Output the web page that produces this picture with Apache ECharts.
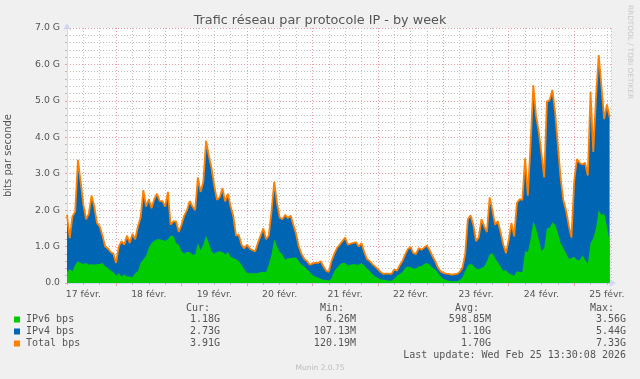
<!DOCTYPE html>
<html><head><meta charset="utf-8">
<script src="https://cdn.jsdelivr.net/npm/echarts@6/dist/echarts.min.js"></script>
<style>html,body{margin:0;padding:0;background:#f0f0f0;}#c{width:640px;height:379px;}</style>
</head><body><div id="c"></div>
<script>
// hourly samples, first sample at 17 févr. 06:00 (hours counted from 17 févr. 00:00)
const startHour = 6;
const endHour = 205.5;
const ipv6G = [
 0.3,0.38,0.32,0.5,0.6,0.55,0.52,0.55,0.5,0.52,
 0.5,0.52,0.52,0.55,0.46,0.41,0.34,0.3,0.2,0.27,
 0.18,0.23,0.18,0.18,0.16,0.27,0.32,0.55,0.65,0.75,
 0.96,1.1,1.15,1.2,1.2,1.18,1.15,1.2,1.3,1.3,
 1.1,1.05,0.87,0.8,0.85,0.85,0.78,0.78,1.1,0.9,
 1.05,1.3,1.1,0.87,0.8,0.85,0.87,0.85,0.78,0.85,
 0.72,0.68,0.65,0.6,0.5,0.38,0.28,0.27,0.27,0.27,
 0.27,0.3,0.3,0.3,0.5,0.78,1.2,1.0,0.85,0.78,
 0.64,0.68,0.68,0.7,0.7,0.6,0.5,0.45,0.38,0.3,
 0.22,0.18,0.15,0.12,0.09,0.09,0.06,0.13,0.32,0.42,
 0.5,0.55,0.55,0.48,0.5,0.52,0.51,0.5,0.55,0.48,
 0.4,0.33,0.24,0.18,0.14,0.1,0.09,0.08,0.06,0.06,
 0.12,0.2,0.25,0.3,0.41,0.45,0.44,0.39,0.4,0.46,
 0.46,0.52,0.55,0.5,0.42,0.37,0.28,0.18,0.11,0.08,
 0.06,0.05,0.05,0.05,0.08,0.15,0.32,0.48,0.53,0.48,
 0.4,0.38,0.41,0.45,0.6,0.78,0.82,0.68,0.57,0.45,
 0.33,0.35,0.27,0.23,0.2,0.32,0.3,0.3,0.87,0.85,
 1.2,1.69,1.5,1.2,0.88,0.95,1.5,1.52,1.66,1.6,
 1.38,1.1,0.96,0.82,0.67,0.68,0.72,0.63,0.62,0.76,
 0.64,0.52,1.1,1.23,1.5,2.0,1.87,1.9,1.55,1.14
];
const ipv4G = [
 1.57,0.85,1.51,1.46,2.78,2.23,1.63,1.2,1.4,1.88,
 1.6,1.13,1.03,0.75,0.54,0.54,0.51,0.5,0.35,0.73,
 0.97,0.82,1.12,0.92,1.19,0.93,1.23,1.25,1.9,1.35,
 1.34,0.95,1.15,1.25,1.05,1.07,0.95,1.3,0.3,0.39,
 0.59,0.35,0.73,1.05,1.15,1.4,1.32,1.22,1.8,1.6,
 1.73,2.6,2.4,2.28,1.87,1.43,1.48,1.75,1.46,1.6,
 1.38,1.15,0.65,0.72,0.55,0.57,0.77,0.68,0.63,0.6,
 0.83,1.0,1.2,0.9,0.8,1.18,1.58,1.2,0.95,0.97,
 1.23,1.1,1.17,0.9,0.65,0.4,0.3,0.21,0.22,0.2,
 0.31,0.37,0.4,0.48,0.37,0.25,0.24,0.47,0.48,0.54,
 0.55,0.6,0.7,0.57,0.58,0.58,0.61,0.5,0.55,0.37,
 0.26,0.27,0.28,0.27,0.24,0.2,0.16,0.18,0.2,0.19,
 0.25,0.14,0.23,0.3,0.37,0.48,0.55,0.43,0.4,0.5,
 0.45,0.45,0.48,0.4,0.32,0.23,0.15,0.14,0.17,0.18,
 0.19,0.18,0.19,0.2,0.22,0.27,0.46,1.27,1.33,1.12,
 0.75,0.87,1.34,1.1,0.8,1.57,1.18,0.92,1.13,0.95,
 0.72,0.47,0.92,1.42,1.08,1.88,2.0,1.98,2.55,1.55,
 2.6,3.74,3.1,2.95,2.67,1.95,3.48,3.5,3.64,3.1,
 2.42,1.8,1.32,1.18,0.91,0.57,2.08,2.77,2.68,2.49,
 2.66,2.43,4.15,2.37,3.6,4.26,3.53,2.6,3.35,3.41
];
const dayLabels = ['17 févr.','18 févr.','19 févr.','20 févr.','21 févr.','22 févr.','23 févr.','24 févr.','25 févr.'];
const dayLabelHours = [12,36,60,84,108,132,156,180,204];
const midnightHours = [24,48,72,96,120,144,168,192];
const yTickLabels = ['0.0','1.0 G','2.0 G','3.0 G','4.0 G','5.0 G','6.0 G','7.0 G'];
const legendNames = ['IPv6 bps','IPv4 bps','Total bps'];
const legendColors = ['#00cc00','#0066b3','#ff8000'];
const curVals = ['1.18G','2.73G','3.91G'];
const minVals = ['6.26M','107.13M','120.19M'];
const avgVals = ['598.85M','1.10G','1.70G'];
const maxVals = ['3.56G','5.44G','7.33G'];
const lastUpdate = 'Last update: Wed Feb 25 13:30:08 2026';

const hours = ipv6G.map((_, i) => startHour + i);
const totalG = ipv6G.map((v, i) => +(v + ipv4G[i]).toFixed(3));
const v6Data = ipv6G.map((v, i) => [hours[i], v]);
const stackTopData = totalG.map((v, i) => [hours[i], v]); // IPv4 stacked on IPv6

const mono = '"DejaVu Sans Mono", monospace';
const sans = '"DejaVu Sans", sans-serif';
const txt = '#555';
const gridGrey = '#c4c4c4';
const gridRed = '#eaa0a0';
const axisCol = '#cfd6f8';

const graphic = [];
const headers = [['Cur:',186],['Min:',320],['Avg:',455],['Max:',590]];
headers.forEach(h => graphic.push({type:'text', x:h[1], y:308.5, style:{text:h[0], font:'10px '+mono, fill:txt, align:'left', verticalAlign:'middle'}}));
const rowsY = [319.5, 331.5, 343.5];
const cols = [[curVals,220],[minVals,356],[avgVals,491],[maxVals,626]];
legendNames.forEach((n, i) => {
  graphic.push({type:'rect', shape:{x:14, y:rowsY[i]-3, width:6, height:6}, style:{fill:legendColors[i]}});
  graphic.push({type:'text', x:26, y:rowsY[i], style:{text:n, font:'10px '+mono, fill:txt, align:'left', verticalAlign:'middle'}});
  cols.forEach(c => graphic.push({type:'text', x:c[1], y:rowsY[i], style:{text:c[0][i], font:'10px '+mono, fill:txt, align:'right', verticalAlign:'middle'}}));
});
graphic.push({type:'text', x:626, y:355.5, style:{text:lastUpdate, font:'10px '+mono, fill:txt, align:'right', verticalAlign:'middle'}});
graphic.push({type:'text', x:320, y:368, style:{text:'Munin 2.0.75', font:'7.5px '+sans, fill:'#bbb', align:'center', verticalAlign:'middle'}});
graphic.push({type:'text', x:630, y:5, rotation:-Math.PI/2, style:{text:'RRDTOOL / TOBI OETIKER', font:'7.3px '+sans, fill:'#c8c8c8', align:'left', verticalAlign:'middle'}});

const chart = echarts.init(document.getElementById('c'), null, {renderer:'canvas'});
chart.setOption({
  animation:false,
  backgroundColor:'#f0f0f0',
  title:{text:'Trafic réseau par protocole IP - by week', left:'center', top:9,
    textStyle:{fontFamily:sans, fontSize:12.8, fontWeight:'normal', color:txt}},
  grid:{left:67, right:29, top:28, bottom:96, show:true, backgroundColor:'#ffffff', borderWidth:0,
    containLabel:false, outerBoundsMode:'none'},
  xAxis:[{
    type:'value', position:'bottom', min:startHour, max:endHour, interval:6,
    axisLine:{show:true, lineStyle:{color:axisCol, width:1}, symbol:['none','arrow'], symbolSize:[6,7], symbolOffset:[0,5]},
    axisTick:{show:true, length:2, inside:false, lineStyle:{color:'#bbb'}},
    axisLabel:{show:false},
    splitLine:{show:true, lineStyle:{color:gridGrey, type:[1,2], width:1}}
  },{
    type:'value', position:'bottom', offset:0, min:startHour, max:endHour,
    axisLine:{show:false},
    axisTick:{show:true, length:3, customValues:midnightHours, lineStyle:{color:gridRed}},
    axisLabel:{show:true, customValues:dayLabelHours, margin:7,
      formatter:v => dayLabels[dayLabelHours.indexOf(v)] || '',
      fontFamily:sans, fontSize:9.3, color:txt},
    splitLine:{show:true, lineStyle:{color:gridRed, type:[1,2], width:1}}
  }],
  yAxis:{
    type:'value', min:0, max:7, interval:1,
    name:'bits par seconde', nameLocation:'middle', nameGap:54, nameRotate:90,
    nameTextStyle:{fontFamily:sans, fontSize:10, color:txt},
    axisLine:{show:true, lineStyle:{color:axisCol}, symbol:['none','arrow'], symbolSize:[6,7], symbolOffset:[0,5]},
    axisTick:{show:true, length:2, lineStyle:{color:gridRed}},
    minorTick:{show:true, splitNumber:5, length:2, lineStyle:{color:'#bbb'}},
    axisLabel:{formatter:(v) => yTickLabels[Math.round(v)], fontFamily:sans, fontSize:9.3, color:txt, margin:7},
    splitLine:{show:true, lineStyle:{color:gridRed, type:[1,2]}},
    minorSplitLine:{show:true, lineStyle:{color:gridGrey, type:[1,2]}}
  },
  graphic:graphic,
  series:[
    {name:'IPv4 bps', type:'line', data:stackTopData, showSymbol:false, symbol:'none',
     lineStyle:{width:0}, areaStyle:{color:legendColors[1], opacity:1}, itemStyle:{color:legendColors[1]}, z:2},
    {name:'IPv6 bps', type:'line', data:v6Data, showSymbol:false, symbol:'none',
     lineStyle:{width:0}, areaStyle:{color:legendColors[0], opacity:1}, itemStyle:{color:legendColors[0]}, z:3},
    {name:'Total bps', type:'line', data:stackTopData, showSymbol:false, symbol:'none',
     lineStyle:{width:1.8, color:legendColors[2]}, itemStyle:{color:legendColors[2]}, z:4}
  ]
});
</script></body></html>
